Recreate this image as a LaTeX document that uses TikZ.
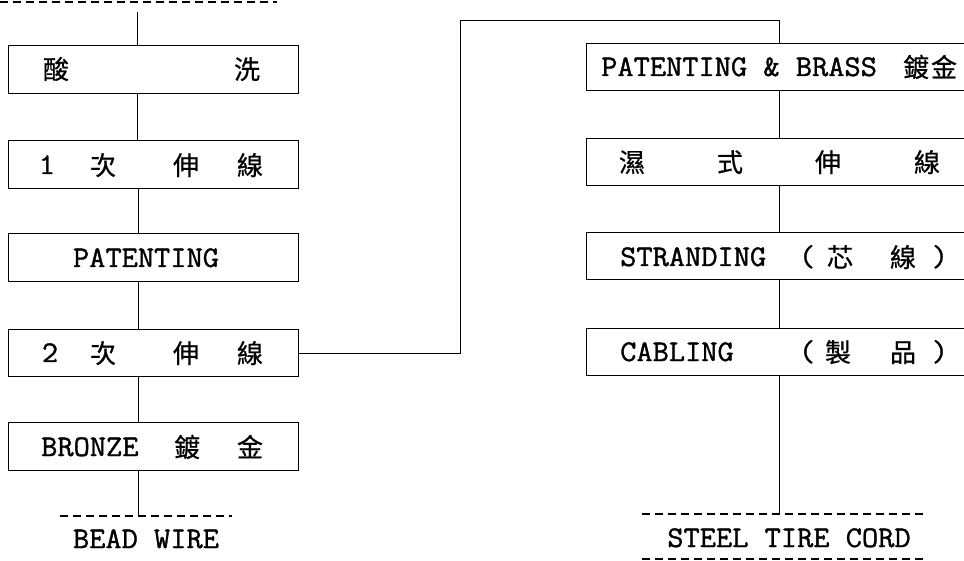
\documentclass[tikz,border=0pt]{standalone}
\usepackage{fontspec}
\newfontfamily\cjk[FakeBold=0.6]{Noto Sans CJK TC}
\newfontfamily\mono[FakeBold=1.2,FakeStretch=1.05]{Latin Modern Mono}
\begin{document}
\begin{tikzpicture}[x=1pt,y=-1pt,
  box/.style={draw, line width=1.1pt, rectangle, inner sep=0pt, anchor=north west},
  lbox/.style={box, minimum width=290pt, minimum height=48pt},
  rbox/.style={box, minimum width=404pt, minimum height=47pt},
  lat/.style={font=\fontsize{30}{33}\selectfont\mono, inner sep=0pt},
  cj/.style={font=\fontsize{26}{30}\selectfont\cjk, inner sep=0pt, anchor=base},
  conn/.style={line width=0.9pt},
  dash line/.style={line width=1.6pt, dash pattern=on 8pt off 5pt}]
\useasboundingbox (0,0) rectangle (964,561);
% left column boxes
\node[lbox] (b1) at (8,45) {};
\node[lbox] (b2) at (8,140) {};
\node[lbox] (b3) at (8,233) {};
\node[lbox, minimum height=47pt] (b4) at (8,329) {};
\node[lbox] (b5) at (8,422) {};
% right column boxes
\node[rbox] (rA) at (586,43) {};
\node[rbox] (rB) at (586,138) {};
\node[rbox] (rC) at (586,232) {};
\node[rbox] (rD) at (586,328) {};
% texts, left
\node[cj] (t1a) at (56,79) {酸};
\node[cj] (t1b) at (247,79) {洗};
\node[lat, anchor=base] (t2a) at (47,174) {1};
\node[cj] (t2b) at (103,175) {次};
\node[cj] (t2c) at (186,175) {伸};
\node[cj] (t2d) at (250,175) {線};
\node[lat, anchor=base] (t3) at (146,267) {PATENTING};
\node[lat, anchor=base] (t4a) at (50,362) {2};
\node[cj] (t4b) at (103,363) {次};
\node[cj] (t4c) at (186,363) {伸};
\node[cj] (t4d) at (250,363) {線};
\node[lat, anchor=base west] (t5a) at (41,456) {BRONZE};
\node[cj] (t5b) at (187,457) {鍍};
\node[cj] (t5c) at (250,457) {金};
% texts, right
\node[lat, anchor=base west] (tAa) at (601,76) {PATENTING \& BRASS};
\node[cj] (tAb) at (916,77) {鍍};
\node[cj] (tAc) at (944,77) {金};
\node[cj] (tBa) at (632,172) {濕};
\node[cj] (tBb) at (730,172) {式};
\node[cj] (tBc) at (828,172) {伸};
\node[cj] (tBd) at (927,172) {線};
\node[lat, anchor=base west] (tCa) at (620,266) {STRANDING};
\node[lat, anchor=base] (tCb) at (807,266) {(};
\node[cj] (tCc) at (840,267) {芯};
\node[cj] (tCd) at (903,267) {線};
\node[lat, anchor=base] (tCe) at (940,266) {)};
\node[lat, anchor=base west] (tDa) at (620,361) {CABLING};
\node[lat, anchor=base] (tDb) at (807,361) {(};
\node[cj] (tDc) at (838,362) {製};
\node[cj] (tDd) at (903,362) {品};
\node[lat, anchor=base] (tDe) at (940,361) {)};
\node[lat, anchor=base] (bead) at (146,548) {BEAD WIRE};
\node[lat, anchor=base] (cord) at (789,547) {STEEL TIRE CORD};
% coordinates
\coordinate (topc) at (137,12);
\coordinate (spL) at (138,0);
\coordinate (spR) at (779,0);
\coordinate (beadline) at (138,516);
\coordinate (cordline) at (779,514);
\coordinate (k1) at (460,20);
\coordinate (k2) at (779,20);
\coordinate (d1a) at (0,2);   \coordinate (d1b) at (277,2);
\coordinate (d2a) at (60,516); \coordinate (d2b) at (232,516);
\coordinate (d3a) at (642,514); \coordinate (d3b) at (923,514);
\coordinate (d4a) at (642,559); \coordinate (d4b) at (923,559);
% connectors left
\draw[conn] (topc) -- (b1.north -| topc);
\draw[conn] (b1.south -| topc) -- (b2.north -| topc);
\draw[conn] (b2.south -| spL) -- (b3.north -| spL);
\draw[conn] (b3.south -| spL) -- (b4.north -| spL);
\draw[conn] (b4.south -| spL) -- (b5.north -| spL);
\draw[conn] (b5.south -| spL) -- (beadline);
% cross connector
\draw[conn] (b4.east) -| (k1) -- (k2) -- (rA.north -| k2);
% connectors right
\draw[conn] (rA.south -| spR) -- (rB.north -| spR);
\draw[conn] (rB.south -| spR) -- (rC.north -| spR);
\draw[conn] (rC.south -| spR) -- (rD.north -| spR);
\draw[conn] (rD.south -| spR) -- (cordline);
% dashed lines
\draw[dash line] (d1a) -- (d1b);
\draw[dash line] (d2a) -- (d2b);
\draw[dash line] (d3a) -- (d3b);
\draw[dash line] (d4a) -- (d4b);
\end{tikzpicture}
\end{document}
